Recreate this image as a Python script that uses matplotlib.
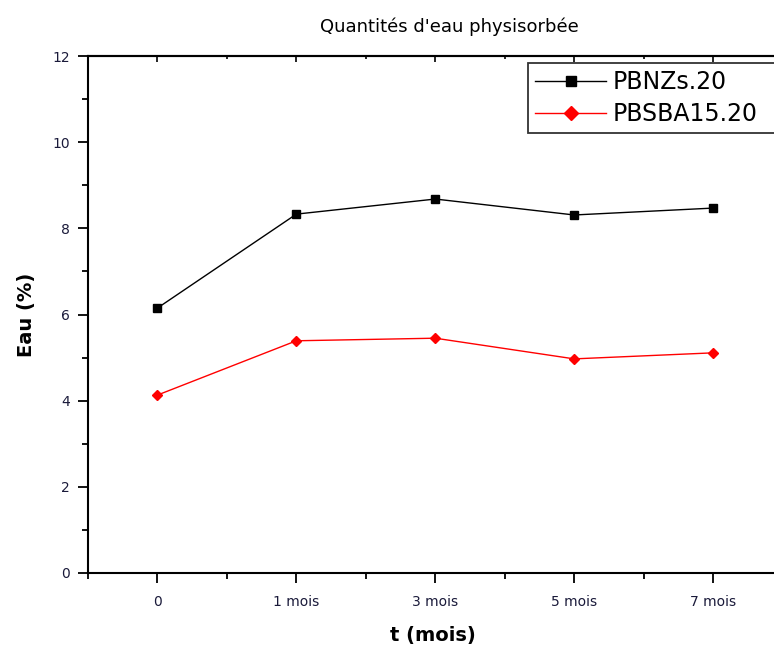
import matplotlib.pyplot as plt
from matplotlib.ticker import MultipleLocator

# donnees
categories = ['0', '1 mois', '3 mois', '5 mois', '7 mois']
pbnzs = [6.15, 8.33, 8.68, 8.31, 8.47]
pbsba = [4.13, 5.39, 5.45, 4.97, 5.11]

fig = plt.figure(figsize=(7.74, 6.47), dpi=100)
W, H = 774, 647
ax = fig.add_axes([88 / W, 1 - 573 / H, (777 - 88) / W, (573 - 56) / H])

x = list(range(len(categories)))
ax.plot(x, pbnzs, color='black', lw=1, marker='s', ms=6, label='PBNZs.20')
ax.plot(x, pbsba, color='red', lw=1, marker='D', ms=5.5, label='PBSBA15.20')

ax.set_xlim(-0.5, 4.46)
ax.set_ylim(0, 12)
ax.set_xticks(x)
ax.set_xticklabels(categories)
ax.xaxis.set_minor_locator(MultipleLocator(0.5))
ax.yaxis.set_major_locator(MultipleLocator(2))
ax.yaxis.set_minor_locator(MultipleLocator(1))

txt_col = '#1a1a3a'
ax.tick_params(axis='both', which='major', direction='out', length=7, width=1.3,
               labelsize=10, labelcolor=txt_col)
ax.tick_params(axis='both', which='minor', direction='out', length=4, width=1.3)
ax.tick_params(axis='x', which='major', pad=9)
ax.tick_params(axis='y', which='major', pad=6)

# graduations du haut, vers l'interieur
top = ax.secondary_xaxis('top')
top.set_xticks(x)
top.xaxis.set_minor_locator(MultipleLocator(0.5))
top.tick_params(which='major', direction='in', length=4, width=1.2, labeltop=False)
top.tick_params(which='minor', direction='in', length=2.5, width=1.2)
top.spines['top'].set_linewidth(1.5)

for s in ['left', 'bottom', 'top']:
    ax.spines[s].set_linewidth(1.5)
ax.spines['right'].set_visible(False)

ax.set_title("Quantités d'eau physisorbée", fontsize=13, pad=17, x=0.525)
ax.set_xlabel('t (mois)', fontsize=14, fontweight='bold', labelpad=12)
ax.set_ylabel('Eau (%)', fontsize=14, fontweight='bold', labelpad=12)

leg = ax.legend(loc='upper left',
                bbox_to_anchor=(528 / W, 1 - 132 / H, (785 - 528) / W, 69 / H),
                bbox_transform=fig.transFigure, mode='expand', fontsize=17,
                frameon=True, fancybox=False, edgecolor='black',
                handlelength=3.0, borderpad=0.3, labelspacing=0.35,
                handletextpad=0.3, borderaxespad=0, markerscale=1.3)
leg.get_frame().set_linewidth(1.3)

fig.savefig('out.png', dpi=100)
